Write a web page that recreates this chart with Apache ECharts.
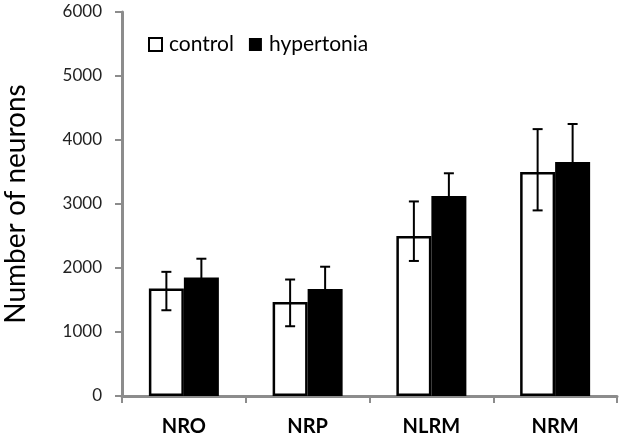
<!DOCTYPE html>
<html><head><meta charset="utf-8">
<script src="https://cdn.jsdelivr.net/npm/echarts@6/dist/echarts.min.js"></script>
<style>html,body{margin:0;padding:0;background:#fff}#c{width:624px;height:441px}</style>
</head><body><div id="c"></div>
<script>
var categories = ['NRO', 'NRP', 'NLRM', 'NRM'];
var controlValues = [1680, 1470, 2500, 3500];
var controlLow = [1340, 1090, 2110, 2900];
var controlHigh = [1940, 1820, 3040, 4170];
var hyperValues = [1850, 1670, 3125, 3655];
var hyperLow = [1550, 1320, 2770, 3060];
var hyperHigh = [2145, 2020, 3480, 4250];
var yTicks = [0, 1000, 2000, 3000, 4000, 5000, 6000];

var BAR_W = 35;
function errSeries(low, high, offset) {
  return {
    type: 'custom',
    z: 10,
    data: categories.map(function (c, i) { return [i, low[i], high[i]]; }),
    renderItem: function (params, api) {
      var i = api.value(0);
      var lo = api.coord([i, api.value(1)]);
      var hi = api.coord([i, api.value(2)]);
      var x = lo[0] + offset;
      var cap = 5;
      var st = { stroke: '#000', lineWidth: 2 };
      return { type: 'group', children: [
        { type: 'line', shape: { x1: x, y1: lo[1], x2: x, y2: hi[1] }, style: st },
        { type: 'line', shape: { x1: x - cap, y1: lo[1], x2: x + cap, y2: lo[1] }, style: st },
        { type: 'line', shape: { x1: x - cap, y1: hi[1], x2: x + cap, y2: hi[1] }, style: st }
      ]};
    },
    silent: true
  };
}

var chart = echarts.init(document.getElementById('c'), null, { renderer: 'canvas' });
chart.setOption({
  animation: false,
  textStyle: { fontFamily: 'Lato' },
  grid: { left: 122, right: 7, top: 12, bottom: 45, containLabel: false, outerBoundsMode: 'none' },
  legend: {
    left: 143, top: 29,
    itemWidth: 13, itemHeight: 13, itemGap: 15,
    textStyle: { fontSize: 21, color: '#000', fontFamily: 'Lato', padding: [0, 0, 0, 2] },
    data: [
      { name: 'control', icon: 'rect' },
      { name: 'hypertonia', icon: 'rect' }
    ]
  },
  xAxis: {
    type: 'category',
    data: categories,
    axisLine: { lineStyle: { color: '#8c8c8c', width: 3 } },
    axisTick: { show: true, length: 7, lineStyle: { color: '#8c8c8c', width: 2 } },
    axisLabel: { fontSize: 20, fontWeight: 'bold', color: '#000', margin: 21, fontFamily: 'Lato' }
  },
  yAxis: {
    type: 'value',
    min: 0, max: 6000, interval: 1000,
    name: 'Number of neurons',
    nameLocation: 'middle',
    nameGap: 92,
    nameTextStyle: { fontSize: 28, color: '#000', fontFamily: 'Lato' },
    axisLine: { show: true, lineStyle: { color: '#8c8c8c', width: 3 } },
    axisTick: { show: true, length: 7, lineStyle: { color: '#8c8c8c', width: 2 } },
    splitLine: { show: false },
    axisLabel: { fontSize: 17, color: '#222', margin: 20, fontFamily: 'Lato',
      formatter: function (v) { return yTicks.indexOf(v) >= 0 ? String(v) : ''; } }
  },
  series: [
    { name: 'control', type: 'bar', data: controlValues, barWidth: BAR_W, barGap: '0%',
      itemStyle: { color: '#fff', borderColor: '#000', borderWidth: 2.5 } },
    { name: 'hypertonia', type: 'bar', data: hyperValues, barWidth: BAR_W, barGap: '0%',
      itemStyle: { color: '#000', borderColor: '#000', borderWidth: 0 } },
    errSeries(controlLow, controlHigh, -BAR_W / 2),
    errSeries(hyperLow, hyperHigh, BAR_W / 2)
  ]
});
</script></body></html>
